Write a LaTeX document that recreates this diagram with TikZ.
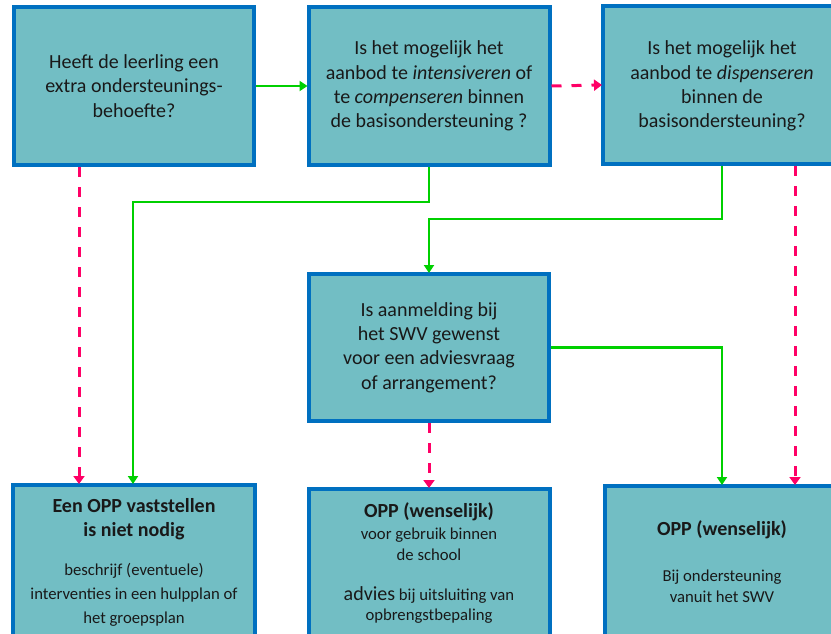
\documentclass[tikz,border=0pt]{standalone}
\usepackage{fontspec}
\setmainfont{Carlito}
\usetikzlibrary{arrows.meta}
\definecolor{boxfill}{RGB}{114,190,196}
\definecolor{boxline}{RGB}{0,112,192}
\definecolor{yesgreen}{RGB}{0,208,0}
\definecolor{nopink}{RGB}{255,0,102}
\definecolor{txt}{RGB}{25,25,25}
\begin{document}
\begin{tikzpicture}[x=1pt,y=-1pt,
  box/.style={draw=boxline,fill=boxfill,line width=4pt,inner sep=0pt,rectangle},
  qtext/.style={align=center,text=txt,font=\fontsize{20}{24.4}\selectfont},
  hd/.style={align=center,text=txt,inner sep=0pt,font=\bfseries\fontsize{20}{24}\selectfont},
  bd/.style={align=center,text=txt,inner sep=0pt,font=\fontsize{16.7}{24}\selectfont},
  sm/.style={align=center,text=txt,inner sep=0pt,font=\fontsize{16.7}{20.5}\selectfont},
  yes/.style={draw=yesgreen,line width=2.8pt,-{Triangle[width=10pt,length=8pt]},shorten >=-1pt},
  no/.style={draw=nopink,line width=3pt,dash pattern=on 10pt off 10pt,-{Triangle[width=11pt,length=8pt]},shorten >=-1pt}]
\useasboundingbox (0,0) rectangle (831,633);
\clip (0,0) rectangle (831,633);
% top row
\node[box,qtext,minimum width=240pt,minimum height=158pt] (b1) at (134,86)
  {Heeft de leerling een\\extra ondersteunings-\\behoefte?};
\node[box,qtext,minimum width=241pt,minimum height=158pt] (b2) at (429,86)
  {Is het mogelijk het\\aanbod te \textit{intensiveren} of\\te \textit{compenseren} binnen\\de basisondersteuning ?};
\node[box,minimum width=238pt,minimum height=158pt] (b3) at (722,85) {};
\node[qtext] (t3) at (722,86)
  {Is het mogelijk het\\aanbod te \textit{dispenseren}\\binnen de\\basisondersteuning?};
% middle
\node[box,qtext,minimum width=240pt,minimum height=147pt] (b4) at (429,347.5)
  {Is aanmelding bij\\het SWV gewenst\\voor een adviesvraag\\of arrangement?};
% bottom row
\node[box,minimum width=242pt,minimum height=160pt] (b5) at (134,565) {};
\node[box,minimum width=241pt,minimum height=160pt] (b6) at (429,569) {};
\node[box,minimum width=234pt,minimum height=160pt] (b7) at (722,566) {};
\node[hd] (t5a) at (134,519) {Een OPP vaststellen\\is niet nodig};
\node[bd] (t5b) at (134,595) {beschrijf (eventuele)\\interventies in een hulpplan of\\het groepsplan};
\node[hd] (t6a) at (429,512) {OPP (wenselijk)};
\node[sm] (t6b) at (429,544.5) {voor gebruik binnen\\de school};
\node[sm] (t6c) at (429,605) {{\fontsize{20}{20}\selectfont advies} bij uitsluiting van\\opbrengstbepaling};
\node[hd] (t7a) at (722,530) {OPP (wenselijk)};
\node[sm] (t7b) at (722,586.5) {Bij ondersteuning\\vanuit het SWV};
% helper coordinates
\coordinate (p1) at (79,0);
\coordinate (p2) at (133,0);
\coordinate (p3) at (795,0);
\coordinate (k1) at (0,202);
\coordinate (k2) at (0,219);
% connectors
\draw[yes] (b1.east) -- (b2.west);
\draw[no] (b2.east) -- (b3.west);
\draw[no] (p1 |- b1.south) -- (p1 |- b5.north);
\draw[yes] (b2.south) -- (b2.south |- k1) -| (p2 |- b5.north);
\draw[yes] (b3.south) -- (b3.south |- k2) -| (b4.north);
\draw[no] (p3 |- b3.south) -- (p3 |- b7.north);
\draw[yes] (b4.east) -| (b7.north);
\draw[no] (b4.south) -- (b4.south |- b6.north);
\end{tikzpicture}
\end{document}
